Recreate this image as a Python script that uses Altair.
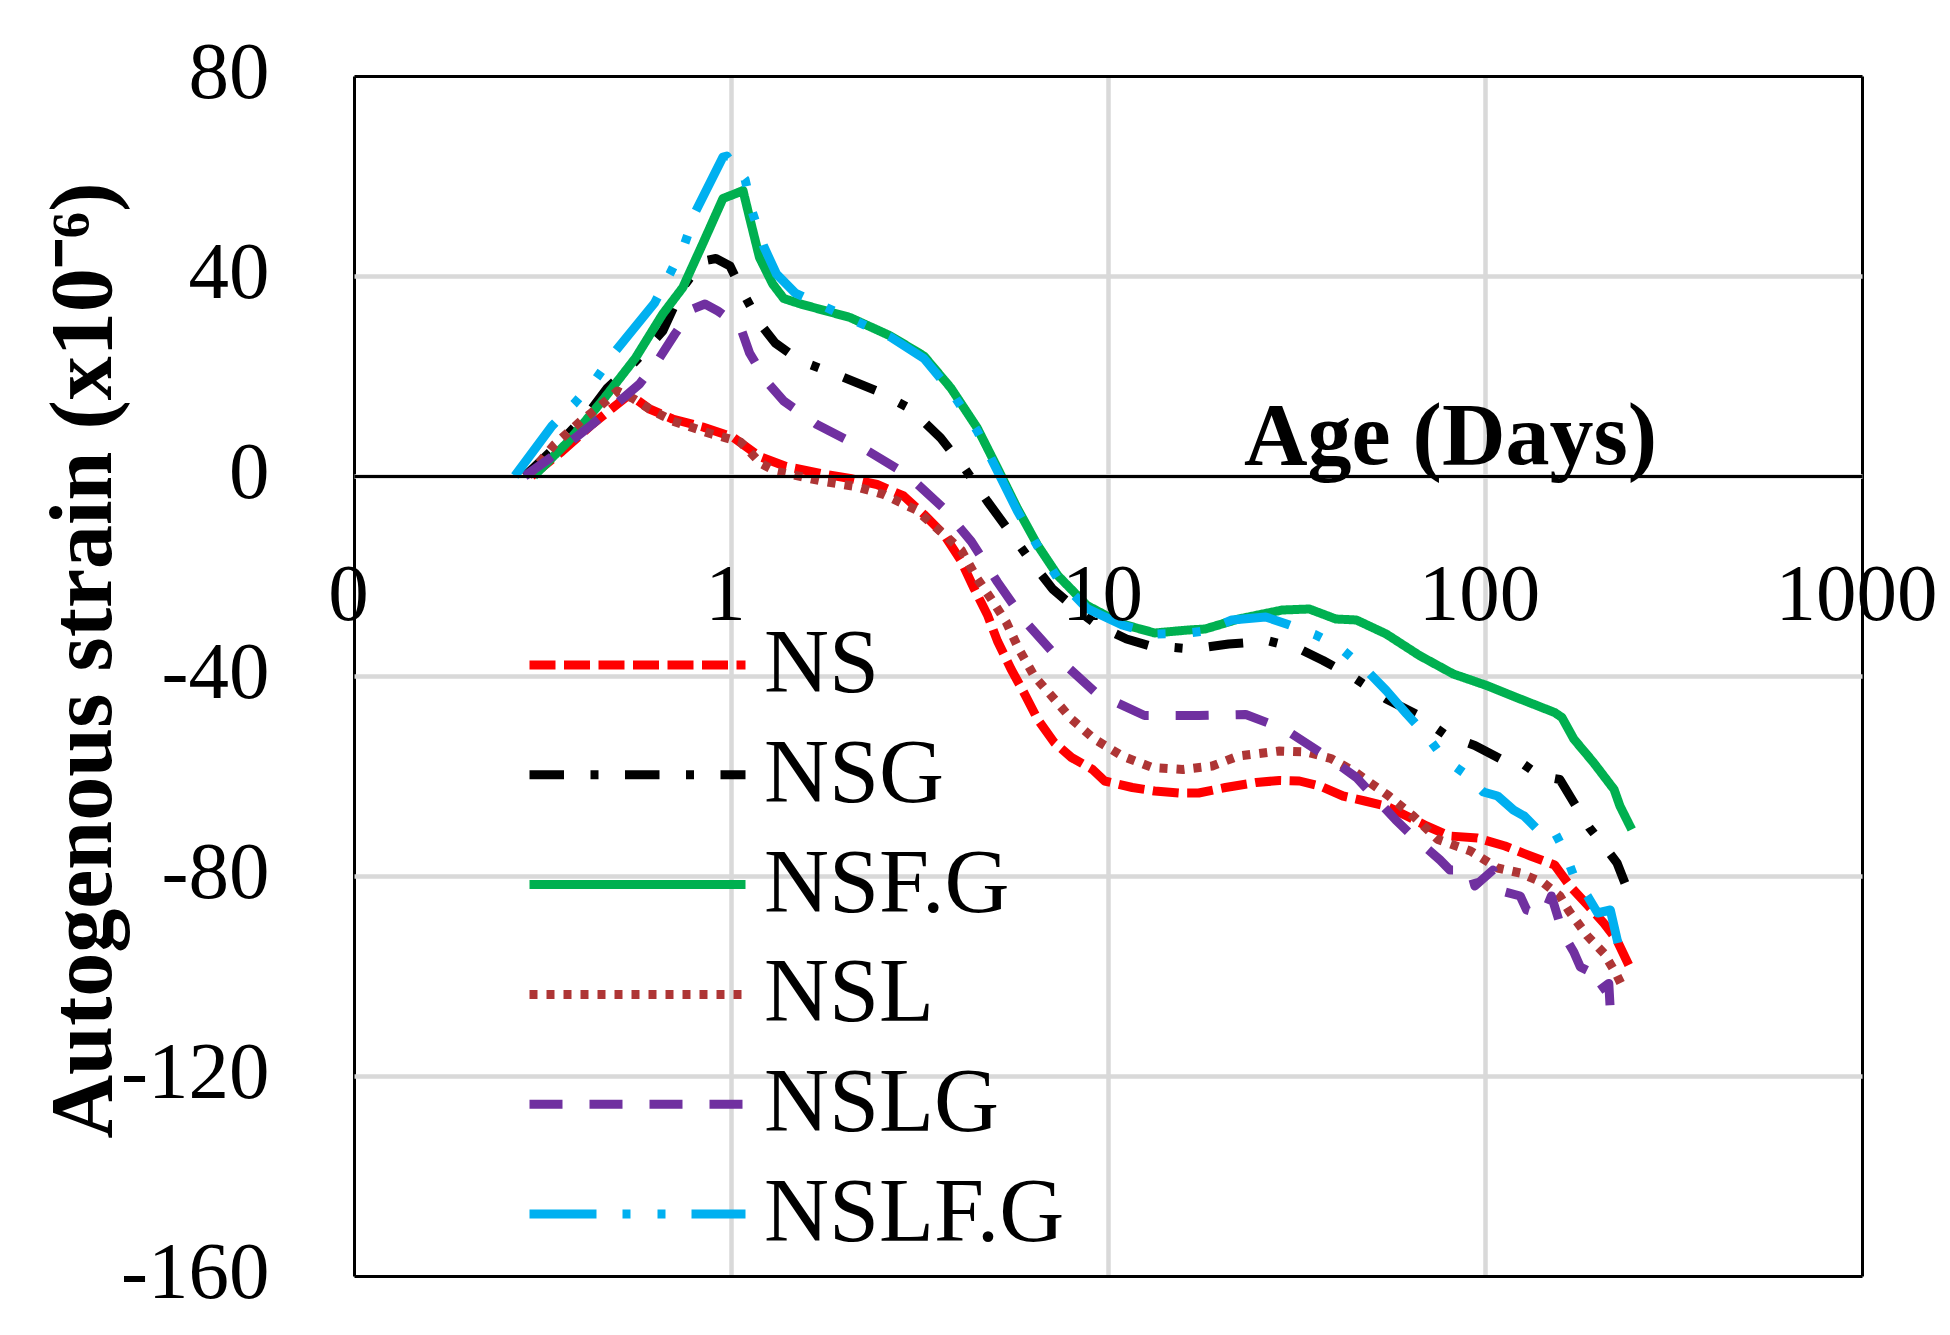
import altair as alt
import pandas as pd

SERIES = ["NS", "NSG", "NSF.G", "NSL", "NSLG", "NSLF.G"]
COLORS = ["#FF0000", "#000000", "#00B050", "#AE3535", "#7030A0", "#00B0F0"]
DASHES = [[26, 8.5], [34.5, 26.5, 8, 26.5], [1, 0], [8, 9], [33, 27],
          [67, 26, 8, 27, 8, 26]]

X_TICKS = [0.1, 1, 10, 100, 1000]
Y_TICKS = [-160, -120, -80, -40, 0, 40, 80]

NS_AGE = [0.296, 0.356, 0.428, 0.485, 0.538, 0.608, 0.70, 0.842, 1.01, 1.19,
          1.40, 1.73, 2.07, 2.44, 2.87, 3.25, 3.67, 4.08, 4.42, 4.79,
          5.09, 5.53, 6.0, 6.5, 7.2, 8.0, 9.1, 9.8, 11.6, 13.3,
          15.4, 17.4, 20.5, 24.7, 28.5, 32.2, 36.5, 42, 48, 54.7,
          62, 70, 80.7, 95.5, 113, 132, 153, 168, 187, 207,
          224, 241]
NS_VAL = [0, 4.9, 10.3, 13.6, 16.3, 13.4, 11.4, 9.8, 7.8, 3.9,
          1.9, 0.5, -0.5, -1.7, -4, -7.7, -11.7, -17, -22.6, -27.8,
          -33, -38.6, -43.5, -48.6, -53.3, -56.3, -58.7, -61, -62.3, -63,
          -63.4, -63.4, -62.3, -61.3, -60.9, -61, -62, -64, -65, -66,
          -68, -70, -72, -72.4, -74, -76, -77.8, -82, -85.8, -89.5,
          -92.9, -97.9]

NSG_AGE = [0.284, 0.35, 0.428, 0.47, 0.548, 0.659, 0.745, 0.842, 0.912, 0.994,
           1.076, 1.19, 1.31, 1.53, 1.95, 2.44, 3.0, 3.6, 4.16, 4.79,
           5.48, 6.27, 7.13, 8.2, 9.4, 11.2, 12.8, 16.7, 20.9, 26.7,
           32.2, 37.2, 44, 54.7, 65.6, 79, 94, 110, 121, 140,
           158, 172, 189, 207, 224, 235]
NSG_VAL = [0, 6.5, 13.5, 17.6, 22.3, 29, 37.7, 43, 43.5, 42,
           36.7, 30.6, 26.6, 23, 20, 17, 13.4, 7.6, 1.6, -5.1,
           -11.1, -17.2, -22.6, -26.5, -29.9, -32.6, -33.9, -34.6, -33.6, -33,
           -34.6, -36.9, -39.9, -44.6, -47.6, -51.9, -53.9, -56.6, -56.6, -60,
           -60.7, -65.3, -70.3, -74, -77.4, -81.4]

NSFG_AGE = [0.30, 0.37, 0.455, 0.558, 0.659, 0.745, 0.842, 0.952, 1.03, 1.076,
            1.12, 1.19, 1.29, 1.38, 1.53, 2.07, 2.65, 3.25, 3.83, 4.5,
            5.09, 5.75, 6.5, 7.36, 8.8, 10.9, 13.3, 16.3, 18.1, 22.2,
            29, 34.2, 40.2, 45.6, 54.7, 67, 82.4, 101, 124, 153,
            160, 172, 194, 220, 228, 245]
NSFG_VAL = [0, 6.9, 15, 23.6, 32.4, 37.7, 46.5, 55.5, 56.5, 57.1,
            51.7, 43.7, 38.4, 35.5, 34.4, 31.7, 28, 24, 17.6, 9.6,
            1.6, -6.5, -13.8, -19.9, -25.9, -29.6, -31.4, -30.8, -30.6, -28.6,
            -26.8, -26.6, -28.6, -28.8, -31.6, -35.9, -39.6, -41.9, -44.6, -47.3,
            -48.3, -52.6, -57.3, -62.7, -66, -70.7]

NSL_AGE = [0.29, 0.34, 0.40, 0.45, 0.50, 0.55, 0.608, 0.70, 0.88, 1.06,
           1.2, 1.32, 1.445, 1.76, 2.14, 2.54, 3.1, 3.6, 4.08, 4.47,
           4.9, 5.37, 5.8, 6.37, 7.2, 8.0, 9.2, 10.9, 13.1, 15.8,
           18.9, 22.2, 28.5, 33.6, 39, 44.8, 55.6, 64.5, 75, 91.5,
           108, 124, 143, 158, 167, 187, 207, 224, 234]
NSL_VAL = [0, 6.3, 11, 14, 17, 15.5, 13.4, 11, 8.5, 6.8,
           2.5, 0.9, 0.3, -1.1, -2.1, -3.7, -6.8, -11.1, -14.8, -20.2,
           -24.6, -29.2, -34.6, -40, -44.6, -48.6, -52.6, -56, -58.3, -58.7,
           -58, -56, -55, -55.2, -56.5, -59, -64, -68, -72.7, -75,
           -78.4, -79.4, -81.4, -84, -87, -92, -95.5, -99.9, -102.9]

NSLG_AGE = [0.284, 0.33, 0.428, 0.572, 0.646, 0.71, 0.79, 0.853, 0.923, 1.06,
            1.12, 1.24, 1.38, 1.69, 2.25, 2.93, 3.67, 4.34, 5.09, 6.0,
            7.36, 9.3, 12.5, 17.4, 23.2, 29.5, 39.5, 45.6, 58, 63,
            76, 80.7, 91.5, 94, 105, 108, 124, 129, 143, 150,
            158, 165, 172, 179, 194, 200, 213, 215, 231]
NSLG_VAL = [0, 3.5, 10.3, 18.4, 23.6, 28.4, 33.4, 34.4, 33, 29.7,
            24.6, 19, 15, 10.3, 5.5, 0.3, -6.5, -13.1, -21.2, -28.9,
            -36.4, -43.4, -47.9, -47.9, -47.7, -50.7, -56.9, -60.3, -68.8, -71.4,
            -76.8, -78.8, -78.8, -82, -78.8, -82.8, -84, -86.8, -87.8, -84,
            -89.5, -92.9, -95.2, -98.2, -99.5, -103, -101.5, -107, -110]

NSLFG_AGE = [0.267, 0.335, 0.384, 0.44, 0.494, 0.627, 0.688, 0.754, 0.807, 0.952,
             0.975, 1.09, 1.14, 1.22, 1.32, 1.48, 2.07, 2.65, 3.25, 3.83,
             4.5, 5.09, 5.75, 6.5, 7.36, 8.8, 10.9, 13.3, 16.3, 18.1,
             21.3, 26.2, 30.3, 35.6, 41, 48, 54.7, 62, 70.1, 78,
             87.6, 99, 108, 119, 127, 139, 151, 162, 172, 187,
             199, 215, 226]
NSLFG_VAL = [0, 10, 14.5, 19.6, 25, 34.6, 40.4, 46.5, 53, 63.8,
             64, 59.3, 52.7, 46, 40.4, 36.6, 31.5, 27.8, 23.5, 17,
             9, 1, -7, -14, -20.5, -26.5, -29.8, -31.6, -31.4, -31,
             -28.8, -28.2, -29.8, -31.8, -34.2, -38.5, -42.9, -47.6, -52, -56.6,
             -59.3, -63.2, -64, -66.8, -68, -71, -70.4, -74.8, -80, -84,
             -87.4, -86.8, -93.9]

SETS = [("NS", NS_AGE, NS_VAL), ("NSG", NSG_AGE, NSG_VAL),
        ("NSF.G", NSFG_AGE, NSFG_VAL), ("NSL", NSL_AGE, NSL_VAL),
        ("NSLG", NSLG_AGE, NSLG_VAL), ("NSLF.G", NSLFG_AGE, NSLFG_VAL)]

rows = []
for name, ages, vals in SETS:
    for a, v in zip(ages, vals):
        rows.append({"series": name, "age": a, "strain": v})
df = pd.DataFrame(rows)

FONT = "Liberation Serif"
W, H = 1508, 1200
Y_DOMAIN = [-160, 80]
x_scale = alt.Scale(type="log", domain=[0.1, 1000], nice=False)
y_scale = alt.Scale(domain=Y_DOMAIN, nice=False, zero=False)
zero_offset = H * (Y_DOMAIN[1] - 0) / (Y_DOMAIN[1] - Y_DOMAIN[0]) - H

legend = alt.Legend(
    orient="none", legendX=171, legendY=545, title=None,
    symbolType="stroke", symbolSize=216 * 216, symbolStrokeWidth=9,
    labelFont=FONT, labelFontSize=90, labelColor="black",
    labelOffset=14, clipHeight=88, rowPadding=19.8, labelLimit=1000,
    padding=0,
)

edge_x = "datum.value < 0.5 || datum.value > 500"
edge_y = "datum.value == 80 || datum.value == -160"

lines = alt.Chart(df).mark_line(
    strokeWidth=9, strokeCap="butt", strokeJoin="round"
).encode(
    x=alt.X("age:Q", scale=x_scale, axis=alt.Axis(
        orient="bottom", values=X_TICKS, grid=True, labels=False, ticks=False,
        domain=False, title=None, zindex=0,
        gridColor={"condition": {"test": edge_x, "value": "black"}, "value": "#D9D9D9"},
        gridWidth={"condition": {"test": edge_x, "value": 3}, "value": 4.5},
    )),
    y=alt.Y("strain:Q", scale=y_scale, axis=alt.Axis(
        orient="left", values=Y_TICKS, grid=True, ticks=False, domain=False, zindex=0,
        gridColor={"condition": {"test": edge_y, "value": "black"}, "value": "#D9D9D9"},
        gridWidth={"condition": {"test": edge_y, "value": 3}, "value": 4.5},
        labelFont=FONT, labelFontSize=81, labelColor="black", labelPadding=85,
        labelExpr="toString(datum.value)", labelFlush=False, labelOffset=-3,
        title="Autogenous strain (x10⁻⁶)", titleFont=FONT, titleFontSize=88,
        titleFontWeight="bold", titleColor="black", titleAngle=270,
        titleX=-244, titleY=584, titleAlign="center", titleBaseline="alphabetic",
    )),
    color=alt.Color("series:N", scale=alt.Scale(domain=SERIES, range=COLORS),
                    legend=legend),
    strokeDash=alt.StrokeDash("series:N", scale=alt.Scale(domain=SERIES, range=DASHES),
                              legend=legend),
)

xaxis_layer = alt.Chart(df).mark_point(opacity=0).encode(
    x=alt.X("age:Q", scale=x_scale, axis=alt.Axis(
        orient="bottom", values=X_TICKS, grid=False, ticks=False, tickSize=0,
        domain=True, domainColor="black", domainWidth=3, offset=zero_offset,
        zindex=1,
        labelFont=FONT, labelFontSize=81, labelColor="black", labelPadding=79,
        labelFlush=False, labelOverlap=False, labelBound=False, labelOffset=-6,
        labelExpr="datum.value < 0.5 ? '0' : format(datum.value, 'd')",
        title="Age (Days)", titleFont=FONT, titleFontSize=88, titleFontWeight="bold",
        titleColor="black", titleX=1096, titleY=-13, titleAlign="center",
        titleBaseline="alphabetic",
    )),
    y=alt.Y("strain:Q", scale=y_scale, axis=None),
)

chart = alt.layer(lines, xaxis_layer).resolve_axis(
    x="independent", y="independent"
).properties(
    width=W, height=H,
    autosize=alt.AutoSizeParams(type="none"),
    padding={"left": 346, "top": 68, "right": 80, "bottom": 45},
    background="white",
).configure_view(stroke=None)

chart.save("out.html", embed_options={"renderer": "svg", "actions": False})
